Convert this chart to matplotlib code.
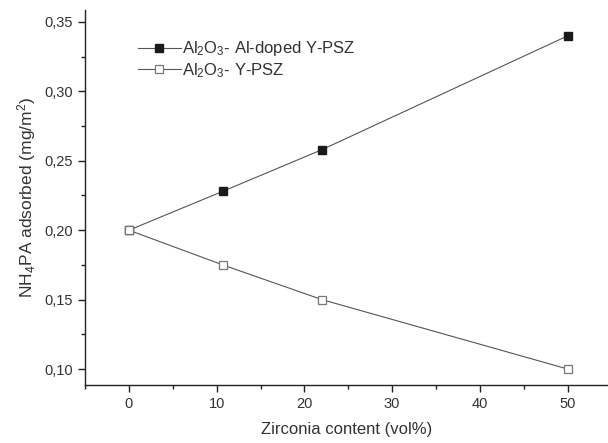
import numpy as np
import matplotlib
matplotlib.use("Agg")
import matplotlib.pyplot as plt
from matplotlib.ticker import MultipleLocator, FuncFormatter

plt.rcParams['font.family'] = ['Liberation Sans', 'DejaVu Sans']
plt.rcParams['mathtext.default'] = 'regular'

# dane
zirconia = [0, 10.7, 22, 50]
al_doped = [0.200, 0.228, 0.258, 0.340]
y_psz = [0.200, 0.175, 0.150, 0.100]
label_doped = "Al$_2$O$_3$- Al-doped Y-PSZ"
label_psz = "Al$_2$O$_3$- Y-PSZ"


def main():
    fig = plt.figure(figsize=(6.08, 4.43), dpi=100)
    ax = fig.add_axes([0.1398, 0.131, 0.8602, 0.846])

    line_col = "#555555"
    ax.plot(zirconia, al_doped, color=line_col, lw=0.8, marker="s", ms=6,
            mfc="#1a1a1a", mec="#1a1a1a", label=label_doped)
    ax.plot(zirconia, y_psz, color=line_col, lw=0.8, marker="s", ms=6,
            mfc="white", mec="#777777", mew=0.9, label=label_psz)

    ax.set_xlim(-5, 54.6)
    ax.set_ylim(0.0885, 0.3585)

    ax.xaxis.set_major_locator(MultipleLocator(10))
    ax.xaxis.set_minor_locator(MultipleLocator(5))
    ax.yaxis.set_major_locator(MultipleLocator(0.05))
    ax.yaxis.set_minor_locator(MultipleLocator(0.025))
    ax.yaxis.set_major_formatter(FuncFormatter(lambda v, p: f"{v:.2f}".replace(".", ",")))

    for s in ["top", "right"]:
        ax.spines[s].set_visible(False)
    for s in ["left", "bottom"]:
        ax.spines[s].set_linewidth(1.0)
        ax.spines[s].set_color("#222222")

    ax.tick_params(which="major", direction="out", length=5, width=1.0,
                   labelsize=10.5, colors="#222222", labelcolor="#333333")
    ax.tick_params(which="minor", direction="out", length=3, width=1.0, colors="#222222")

    ax.set_xlabel("Zirconia content (vol%)", fontsize=12, color="#333333", labelpad=8)
    ax.set_ylabel("NH$_4$PA adsorbed (mg/m$^2$)", fontsize=12.5, color="#333333", labelpad=5)

    ax.legend(loc="upper left", bbox_to_anchor=(0.101, 0.922), frameon=False,
              fontsize=12, handlelength=2.6, handletextpad=0.05,
              borderpad=0, borderaxespad=0, labelspacing=0.15, labelcolor="#333333")

    fig.savefig("out.png", dpi=100)


if __name__ == "__main__":
    main()
